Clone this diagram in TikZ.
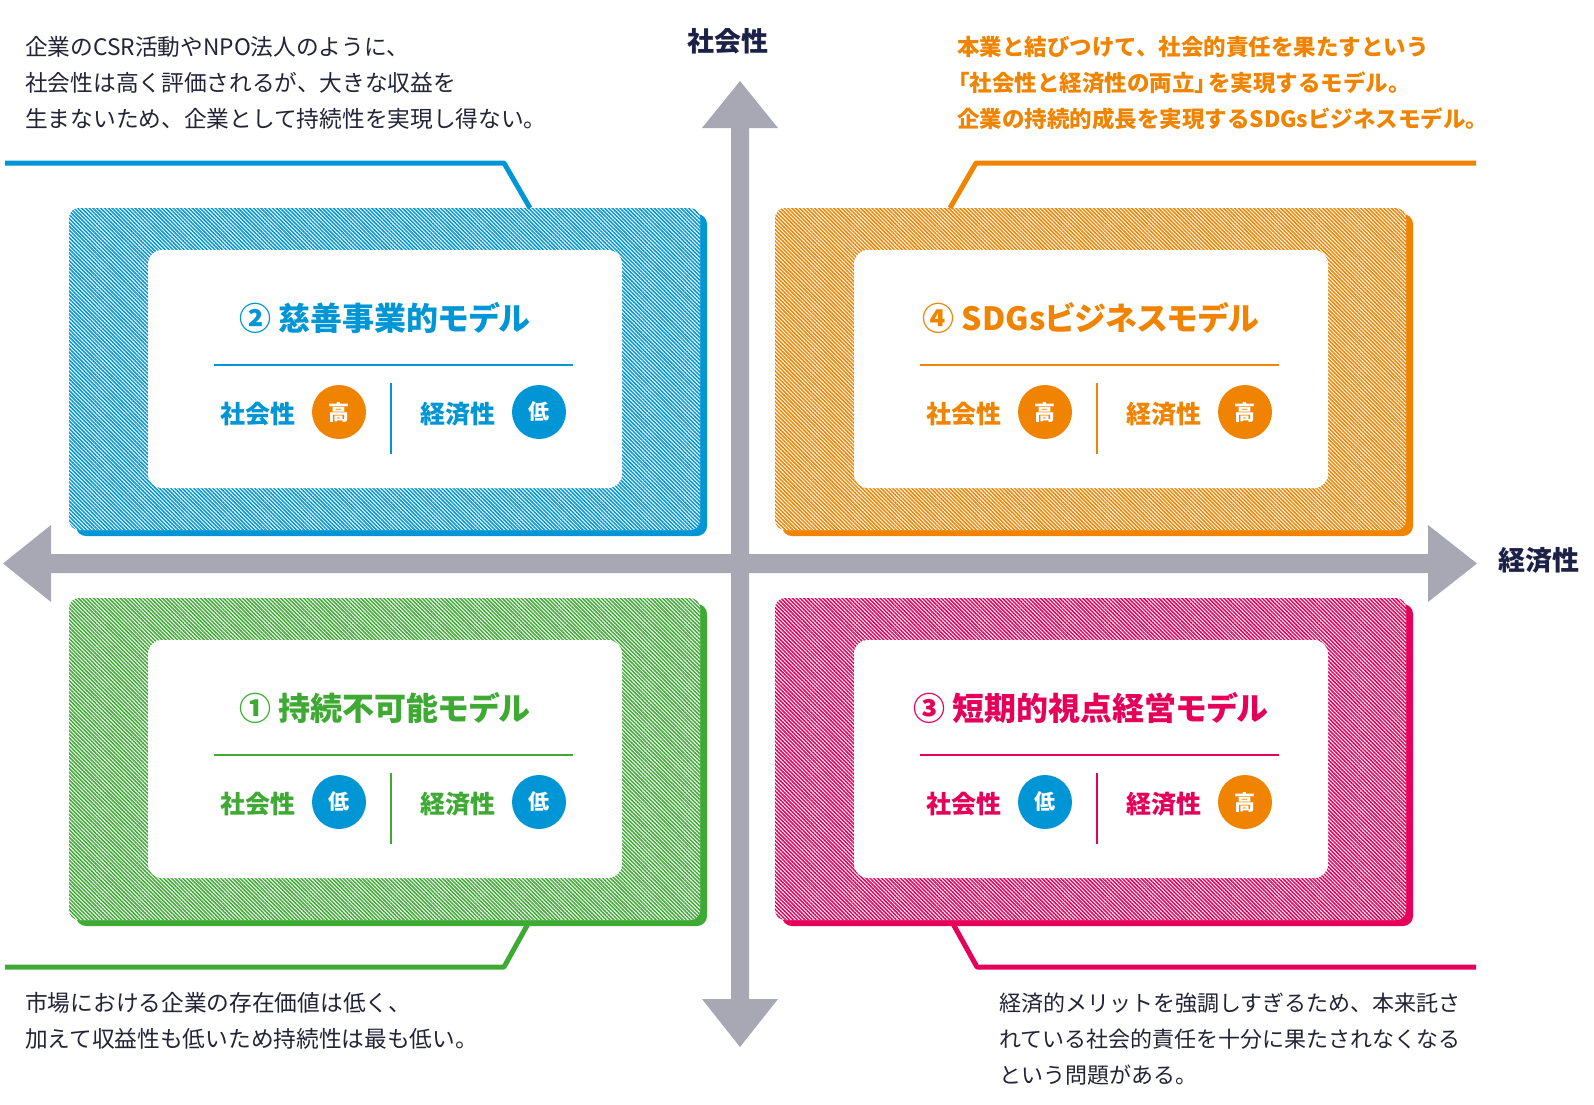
\documentclass[tikz,border=0pt]{standalone}
\usepackage{fontspec}
\setmainfont{Noto Sans CJK JP}
\usetikzlibrary{patterns.meta}
\definecolor{cblue}{RGB}{0,150,214}
\definecolor{corange}{RGB}{240,131,0}
\definecolor{cgreen}{RGB}{62,170,52}
\definecolor{cpink}{RGB}{229,0,90}
\definecolor{caxis}{RGB}{168,168,180}
\definecolor{cnavy}{RGB}{28,33,72}
\definecolor{cbody}{RGB}{35,35,55}
\tikzset{
  titletext/.style={anchor=base,inner sep=0,font=\bfseries\fontsize{32}{32}\selectfont\addfontfeatures{RawFeature=+palt}},
  labeltext/.style={anchor=base,inner sep=0,font=\bfseries\fontsize{25}{25}\selectfont},
  badge/.style={circle,inner sep=0,minimum size=54,text=white,font=\bfseries\fontsize{21}{21}\selectfont},
  bodytext/.style={anchor=base west,inner sep=0,text=cbody,font=\fontsize{22.7}{22.7}\selectfont},
  bodytextr/.style={anchor=base west,inner sep=0,text=cbody,font=\fontsize{22}{22}\selectfont},
  hitext/.style={anchor=base west,inner sep=0,text=corange,font=\bfseries\fontsize{22.5}{22.5}\selectfont},
  axislabel/.style={inner sep=0,text=cnavy,font=\bfseries\fontsize{27}{27}\selectfont},
  leader/.style={line width=5,line join=round},
}
\newcommand\quadrantbox[9]{%
\begin{scope}[shift={(#2,#3)}]
  \fill[#4,rounded corners=10] (76,214) rectangle (707,536);
  \fill[white,rounded corners=10] (69,208) rectangle (700,530);
  \fill[pattern={Lines[angle=-45,distance=2.7pt,line width=1.5pt]},pattern color=#4,rounded corners=10] (69,208) rectangle (700,530);
  \fill[white,rounded corners=14] (148,250) rectangle (622,488);
  \node[titletext,text=#4] (#1-title) at (385,330) {#5};
  \draw[#4,line width=2] (214,365) coordinate (#1-ra) -- (573,365) coordinate (#1-rb);
  \draw[#4,line width=2] (391,383) coordinate (#1-da) -- (391,454) coordinate (#1-db);
  \node[labeltext,text=#4] (#1-l1) at (258,423) {社会性};
  \node[badge,fill=#6] (#1-c1) at (339,412) {#7};
  \node[labeltext,text=#4] (#1-l2) at (458,423) {経済性};
  \node[badge,fill=#8] (#1-c2) at (539,412) {#9};
\end{scope}}
\begin{document}
\begin{tikzpicture}[x=1pt,y=-1pt]
\useasboundingbox (0,0) rectangle (1594,1104);
% axes
\fill[caxis] (731,128) -- (702,128) -- (740,81) -- (778,128) -- (749,128) -- (749,999) -- (778,999) -- (740,1047) -- (702,999) -- (731,999) -- cycle;
\fill[caxis] (51,554) -- (51,525) -- (3,563.5) -- (51,602) -- (51,573) -- (1428,573) -- (1428,602) -- (1477,563.5) -- (1428,525) -- (1428,554) -- cycle;
\node[axislabel] (ysoc) at (728,41) {社会性};
\node[axislabel] (xeco) at (1539,560) {経済性};
% quadrants
\quadrantbox{q2}{0}{0}{cblue}{② 慈善事業的モデル}{corange}{高}{cblue}{低}
\quadrantbox{q4}{706}{0}{corange}{④ SDGsビジネスモデル}{corange}{高}{corange}{高}
\quadrantbox{q1}{0}{390}{cgreen}{① 持続不可能モデル}{cblue}{低}{cblue}{低}
\quadrantbox{q3}{706}{390}{cpink}{③ 短期的視点経営モデル}{cblue}{低}{corange}{高}
% leaders
\coordinate (l2a) at (5,163); \coordinate (l2b) at (504,163); \coordinate (l2c) at (530,208);
\draw[leader,cblue] (l2a) -- (l2b) -- (l2c);
\coordinate (l4a) at (1476,163); \coordinate (l4b) at (976,163); \coordinate (l4c) at (950,208);
\draw[leader,corange] (l4a) -- (l4b) -- (l4c);
\coordinate (l1a) at (5,967); \coordinate (l1b) at (504,967); \coordinate (l1c) at (529,922);
\draw[leader,cgreen] (l1a) -- (l1b) -- (l1c);
\coordinate (l3a) at (1476,967); \coordinate (l3b) at (977,967); \coordinate (l3c) at (952,922);
\draw[leader,cpink] (l3a) -- (l3b) -- (l3c);
% texts
\node[bodytext] (t2a) at (25,55) {企業のCSR活動やNPO法人のように、};
\node[bodytext] (t2b) at (25,91) {社会性は高く評価されるが、大きな収益を};
\node[bodytext] (t2c) at (25,127) {生まないため、企業として持続性を実現し得ない。};
\node[hitext] (t4a) at (957,55) {本業と結びつけて、社会的責任を果たすという};
\node[hitext] (t4b) at (957,91) {\hspace{-0.45em}「社会性と経済性の両立」\hspace{-0.4em}を実現するモデル。};
\node[hitext] (t4c) at (957,127) {企業の持続的成長を実現するSDGsビジネスモデル。};
\node[bodytext] (t1a) at (25,1011) {市場における企業の存在価値は低く、};
\node[bodytext] (t1b) at (25,1047) {加えて収益性も低いため持続性は最も低い。};
\node[bodytextr] (t3a) at (999,1011) {経済的メリットを強調しすぎるため、本来託さ};
\node[bodytextr] (t3b) at (999,1047) {れている社会的責任を十分に果たされなくなる};
\node[bodytextr] (t3c) at (999,1083) {という問題がある。};
\end{tikzpicture}
\end{document}
